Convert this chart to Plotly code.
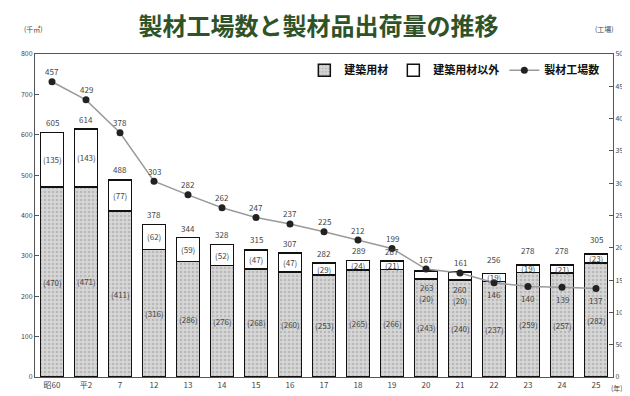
import plotly.graph_objects as go

categories = ["昭60", "平2", "7", "12", "13", "14", "15", "16", "17", "18", "19", "20", "21", "22", "23", "24", "25"]
construction = [470, 471, 411, 316, 286, 276, 268, 260, 253, 265, 266, 243, 240, 237, 259, 257, 282]
non_construction = [135, 143, 77, 62, 59, 52, 47, 47, 29, 24, 21, 20, 20, 19, 19, 21, 23]
totals = [605, 614, 488, 378, 344, 328, 315, 307, 282, 289, 287, 263, 260, 256, 278, 278, 305]
factories = [457, 429, 378, 303, 282, 262, 247, 237, 225, 212, 199, 167, 161, 146, 140, 139, 137]

FONT = "Noto Sans CJK JP"
LBL = dict(family=FONT, size=8, color="#444")
n = len(categories)
xs = list(range(n))

fig = go.Figure()
fig.add_trace(go.Bar(
    x=xs, y=construction, name="建築用材", width=0.68,
    marker=dict(color="#d4d4d4", line=dict(color="#111", width=1.5),
                pattern=dict(shape=".", fgcolor="#9a9a9a", bgcolor="#d6d6d6", size=4, solidity=0.35)),
))
fig.add_trace(go.Bar(
    x=xs, y=non_construction, name="建築用材以外", width=0.68,
    marker=dict(color="white", line=dict(color="#111", width=1.5)),
))
fig.add_trace(go.Scatter(
    x=xs, y=factories, name="製材工場数", yaxis="y2", mode="lines+markers",
    line=dict(color="#9a9a9a", width=1.5),
    marker=dict(color="#222", size=7),
))

ann = []
for i in range(n):
    c, nc, t, f = construction[i], non_construction[i], totals[i], factories[i]
    late = i >= 11
    crossing = i in (11, 12)
    ann.append(dict(x=i, y=t, xref="x", yref="y", text=str(t), showarrow=False,
                    yshift=(-17 if crossing else (14 if late else 10)), font=LBL))
    if crossing:
        ann.append(dict(x=i, y=t, xref="x", yref="y", text=f"({nc})", showarrow=False,
                        yshift=-28, font=LBL))
    else:
        ann.append(dict(x=i, y=c + nc / 2, xref="x", yref="y", text=f"({nc})",
                        showarrow=False, font=LBL))
    ann.append(dict(x=i, y=c / 2, xref="x", yref="y", text=f"({c})", showarrow=False, font=LBL))
    ann.append(dict(x=i, y=f, xref="x", yref="y2", text=str(f), showarrow=False,
                    yshift=(-12 if i >= 13 else 10), font=LBL))

SMALL = dict(family=FONT, size=7, color="#444")
ann.append(dict(x=-0.022, y=1.10, xref="paper", yref="paper", text="(千㎥)", showarrow=False, font=SMALL))
ann.append(dict(x=1.005, y=1.10, xref="paper", yref="paper", text="(工場)", showarrow=False, font=SMALL))
ann.append(dict(x=1.02, y=-0.055, xref="paper", yref="paper", text="(年)", showarrow=False, font=SMALL))

fig.update_layout(
    width=630, height=396,
    margin=dict(l=27, r=25, t=46, b=27),
    paper_bgcolor="white", plot_bgcolor="white",
    barmode="stack", bargap=0.32,
    title=dict(text="<b>製材工場数と製材品出荷量の推移</b>", x=0.493, xanchor="center", y=0.952, yanchor="middle",
               font=dict(family=FONT, size=24, color="#2f5328")),
    font=dict(family=FONT),
    showlegend=True,
    legend=dict(orientation="h", x=0.985, xanchor="right", y=0.95, yanchor="middle",
                bgcolor="rgba(0,0,0,0)", font=dict(family=FONT, size=11, color="#111", weight="bold"),
                traceorder="normal", itemwidth=30),
    xaxis=dict(range=[-0.5, n - 0.5], showline=True, linecolor="#555", linewidth=1, mirror=True,
               tickmode="array", tickvals=xs, ticktext=categories,
               ticks="", tickfont=dict(family=FONT, size=8, color="#444"), showgrid=False),
    yaxis=dict(range=[0, 800], dtick=100, showline=True, linecolor="#555", linewidth=1,
               ticks="inside", ticklen=4, tickcolor="#555", showgrid=False, zeroline=False,
               tickfont=dict(family=FONT, size=7, color="#444")),
    yaxis2=dict(range=[0, 500], dtick=50, overlaying="y", side="right", showline=True, linecolor="#555",
                linewidth=1, ticks="inside", ticklen=4, tickcolor="#555", showgrid=False, zeroline=False,
                tickfont=dict(family=FONT, size=7, color="#444")),
    annotations=ann,
)

fig.write_html("out.html")
